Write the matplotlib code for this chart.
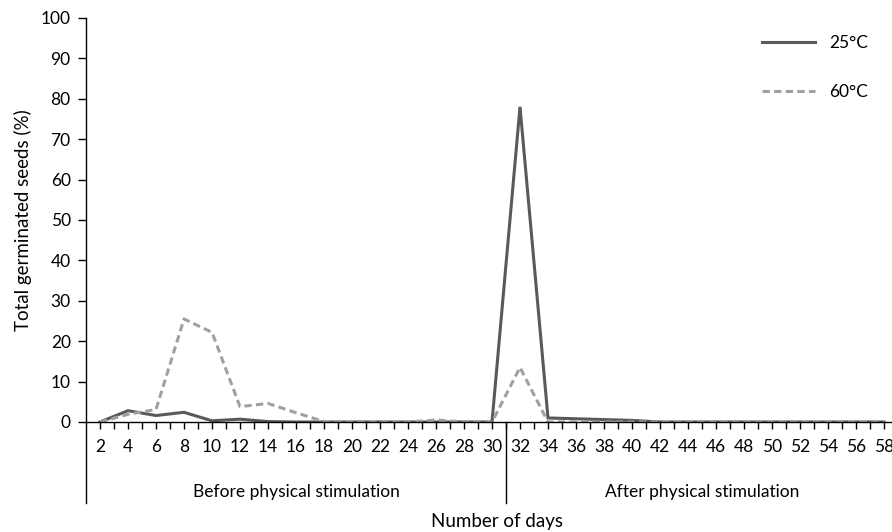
import matplotlib
matplotlib.use("Agg")
import matplotlib.pyplot as plt
import numpy as np

plt.rcParams['font.family'] = ['Lato', 'DejaVu Sans']

# Data: germinated seeds (%) sampled every 2 days
days = list(range(2, 59, 2))
seeds_25 = [0, 2.8, 1.6, 2.4, 0.3, 0.7, 0.1, 0, 0, 0, 0, 0, 0, 0, 0,
            78, 1.0, 0.8, 0.6, 0.4, 0, 0, 0, 0, 0, 0, 0, 0, 0]
seeds_60 = [0, 1.9, 3.1, 25.5, 22.2, 3.8, 4.6, 2.3, 0.1, 0, 0, 0, 0.5, 0, 0,
            13.5, 0, 0, 0, 0, 0, 0, 0, 0, 0, 0, 0, 0, 0]
groups = ["Before physical stimulation", "After physical stimulation"]
group_edges = [1, 31, 59]

fig = plt.figure(figsize=(8.92, 5.32), dpi=100)
ax = fig.add_axes([86 / 892, 110 / 532, 812 / 892, 404 / 532])

ax.plot(days, seeds_25, color="#595959", lw=2.2, label="25°C", solid_joinstyle="miter")
ax.plot(days, seeds_60, color="#A0A0A0", lw=2.2, ls=(0, (2.4, 1.4)), label="60°C")

ax.set_xlim(group_edges[0], group_edges[-1])
ax.set_ylim(0, 100)
ax.set_yticks(range(0, 101, 10))
ax.set_xticks(range(2, 59))
ax.set_xticklabels([str(d) if d % 2 == 0 else "" for d in range(2, 59)])

for side in ["top", "right"]:
    ax.spines[side].set_visible(False)
ax.spines["left"].set_linewidth(1.0)
ax.spines["bottom"].set_linewidth(1.0)
ax.tick_params(axis="x", direction="out", length=5, width=1, labelsize=12.5, pad=7)
ax.tick_params(axis="y", direction="out", length=6, width=1, labelsize=12.5, pad=5)

# multi-level category axis: separators and group labels
for edge in group_edges[:-1]:
    ax.plot([edge, edge], [0, -0.2], color="black", lw=1,
            transform=ax.get_xaxis_transform(), clip_on=False)
for i, name in enumerate(groups):
    mid = (group_edges[i] + group_edges[i + 1]) / 2
    ax.text(mid, -0.173, name, transform=ax.get_xaxis_transform(),
            ha="center", va="center", fontsize=12.5)

ax.set_ylabel("Total germinated seeds (%)", fontsize=13.5, labelpad=6)
fig.text(497 / 892, 11 / 532, "Number of days", ha="center", va="center", fontsize=13.5)

ax.legend(loc="upper left", bbox_to_anchor=(746 / 892, 513 / 532), bbox_transform=fig.transFigure,
          frameon=False, fontsize=12.5, handlelength=3.1, labelspacing=1.9, handletextpad=0.8)

fig.savefig("out.png", dpi=100)
